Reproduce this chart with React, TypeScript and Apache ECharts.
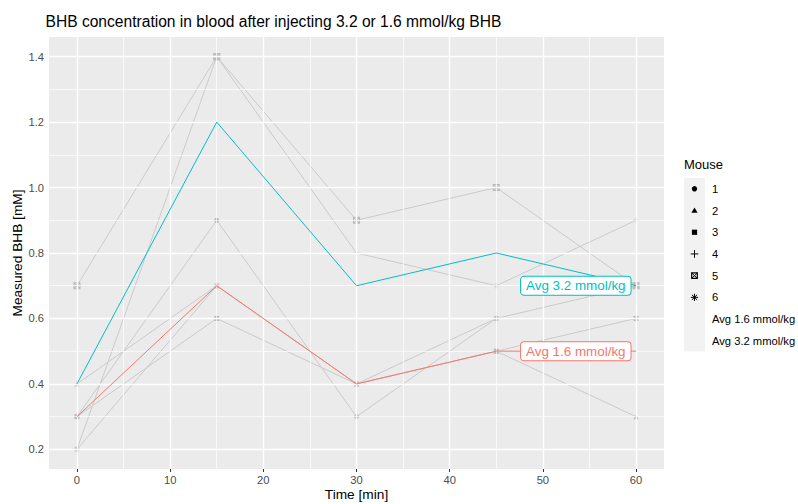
import React, { useEffect, useRef } from "react";
import * as echarts from "echarts";

// Sampling times (min)
const times = [0, 15, 30, 45, 60];

// Measured BHB per mouse (mM)
const mouse1 = [0.3, 0.9, 0.3, 0.6, 0.7];
const mouse2 = [0.4, 0.7, 0.4, 0.5, 0.3];
const mouse3 = [0.3, 0.6, 0.4, 0.5, 0.6];
const mouse4 = [0.2, 1.4, 0.8, 0.7, 0.9];
const mouse5 = [0.7, 1.4, 0.9, 1.0, 0.7];
const mouse6 = [0.2, 0.7, 0.4, 0.6, 0.6];

// Group averages (mM)
const avgHigh = [0.4, 1.2, 0.7, 0.8, 0.7];
const avgLow = [0.3, 0.7, 0.4, 0.5, 0.5];

const mouseNames = ["1", "2", "3", "4", "5", "6"];
const avgNames = ["Avg 1.6 mmol/kg", "Avg 3.2 mmol/kg"];

const xTicks = [0, 10, 20, 30, 40, 50, 60];
const xMinor = [5, 15, 25, 35, 45, 55];
const yTicks = [0.2, 0.4, 0.6, 0.8, 1.0, 1.2, 1.4];
const yMinor = [0.3, 0.5, 0.7, 0.9, 1.1, 1.3];

const FONT = "'Liberation Sans', Arial, Helvetica, sans-serif";
const CYAN = "#00BFC4";
const SALMON = "#F8766D";
const GREY_LINE = "#CACACA";
const GREY_MARK = "#BABABA";

const PLUS = "path://M0,5L10,5M5,0L5,10";
const SQUARE_CROSS = "path://M0,0L10,0L10,10L0,10ZM0,0L10,10M10,0L0,10";
const ASTERISK = "path://M0,5L10,5M5,0L5,10M1.5,1.5L8.5,8.5M8.5,1.5L1.5,8.5";

const toPairs = (vals: number[]) => times.map((t, i) => [t, vals[i]]);

function mouseSeries(name: string, vals: number[], symbol: string, stroked: boolean) {
  return {
    type: "line",
    name,
    data: toPairs(vals),
    symbol,
    symbolSize: stroked ? 6 : 5,
    showAllSymbol: true,
    silent: true,
    z: 3,
    lineStyle: { color: GREY_LINE, width: 1 },
    itemStyle: stroked
      ? { color: "rgba(0,0,0,0)", borderColor: GREY_MARK, borderWidth: 1.1 }
      : { color: GREY_MARK },
  };
}

function avgSeries(name: string, vals: number[], color: string) {
  const data: any[] = toPairs(vals);
  const last = data.length - 1;
  data[last] = {
    value: data[last],
    label: {
      show: true,
      position: "left",
      distance: 5,
      formatter: name,
      color,
      fontSize: 13.4,
      fontFamily: FONT,
      backgroundColor: "#FFFFFF",
      borderColor: color,
      borderWidth: 1,
      borderRadius: 3,
      padding: [3, 5, 2, 5],
    },
  };
  return {
    type: "line",
    name,
    data,
    symbol: "circle",
    symbolSize: 1,
    silent: true,
    z: 5,
    lineStyle: { color, width: 1 },
    itemStyle: { color: "rgba(0,0,0,0)" },
  };
}

// Panel grid lines drawn as mark lines underneath the data
function gridSeries() {
  const major = { color: "#FFFFFF", width: 1.4, type: "solid" };
  const minor = { color: "#FFFFFF", width: 0.7, type: "solid" };
  const data = [
    ...xMinor.map((v) => ({ xAxis: v, lineStyle: minor })),
    ...yMinor.map((v) => ({ yAxis: v, lineStyle: minor })),
    ...xTicks.map((v) => ({ xAxis: v, lineStyle: major })),
    ...yTicks.map((v) => ({ yAxis: v, lineStyle: major })),
  ];
  return {
    type: "line",
    data: [],
    silent: true,
    z: 1,
    markLine: {
      silent: true,
      symbol: ["none", "none"],
      label: { show: false },
      animation: false,
      data,
    },
  };
}

function legendGraphics() {
  const x0 = 684;
  const keyW = 21;
  const keyTop = 178;
  const keyH = 21.7;
  const cx = x0 + 10.5;
  const els: any[] = [];
  els.push({
    type: "text",
    left: x0,
    top: 158,
    style: { text: "Mouse", fontSize: 13, fontFamily: FONT, fill: "#000" },
  });
  els.push({
    type: "rect",
    shape: { x: x0, y: keyTop, width: keyW, height: keyH * 8 },
    style: { fill: "#F2F2F2" },
  });
  const labels = [...mouseNames, ...avgNames];
  labels.forEach((lab, i) => {
    const cy = keyTop + keyH * (i + 0.5);
    els.push({
      type: "text",
      x: 712,
      y: cy,
      style: {
        text: lab,
        fontSize: 11.2,
        fontFamily: FONT,
        fill: "#000",
        textVerticalAlign: "middle",
      },
    });
    const ink = { stroke: "#000", lineWidth: 1 };
    if (i === 0) {
      els.push({ type: "circle", shape: { cx, cy, r: 2.7 }, style: { fill: "#000" } });
    } else if (i === 1) {
      els.push({
        type: "polygon",
        shape: { points: [[cx, cy - 3], [cx + 3.1, cy + 2.3], [cx - 3.1, cy + 2.3]] },
        style: { fill: "#000" },
      });
    } else if (i === 2) {
      els.push({ type: "rect", shape: { x: cx - 2.6, y: cy - 2.6, width: 5.2, height: 5.2 }, style: { fill: "#000" } });
    } else if (i === 3) {
      els.push({ type: "line", shape: { x1: cx - 3.8, y1: cy, x2: cx + 3.8, y2: cy }, style: ink });
      els.push({ type: "line", shape: { x1: cx, y1: cy - 3.8, x2: cx, y2: cy + 3.8 }, style: ink });
    } else if (i === 4) {
      els.push({ type: "rect", shape: { x: cx - 2.8, y: cy - 2.8, width: 5.6, height: 5.6 }, style: { fill: "none", stroke: "#000", lineWidth: 1.2 } });
      els.push({ type: "line", shape: { x1: cx - 2.8, y1: cy - 2.8, x2: cx + 2.8, y2: cy + 2.8 }, style: ink });
      els.push({ type: "line", shape: { x1: cx + 2.8, y1: cy - 2.8, x2: cx - 2.8, y2: cy + 2.8 }, style: ink });
    } else if (i === 5) {
      els.push({ type: "line", shape: { x1: cx - 3.6, y1: cy, x2: cx + 3.6, y2: cy }, style: ink });
      els.push({ type: "line", shape: { x1: cx, y1: cy - 3.6, x2: cx, y2: cy + 3.6 }, style: ink });
      els.push({ type: "line", shape: { x1: cx - 2.6, y1: cy - 2.6, x2: cx + 2.6, y2: cy + 2.6 }, style: ink });
      els.push({ type: "line", shape: { x1: cx + 2.6, y1: cy - 2.6, x2: cx - 2.6, y2: cy + 2.6 }, style: ink });
    }
  });
  return els;
}

export default function App() {
  const ref = useRef<HTMLDivElement>(null);

  useEffect(() => {
    if (!ref.current) return;
    const chart = echarts.init(ref.current, undefined, { renderer: "svg" });
    chart.setOption({
      animation: false,
      backgroundColor: "#FFFFFF",
      textStyle: { fontFamily: FONT },
      grid: {
        left: 49,
        right: 134,
        top: 37,
        bottom: 35,
        show: true,
        backgroundColor: "#EBEBEB",
        borderWidth: 0,
      },
      xAxis: {
        type: "value",
        min: -3,
        max: 63,
        splitLine: { show: false },
        axisLine: { show: false },
        axisTick: { show: true, customValues: xTicks, length: 3, lineStyle: { color: "#333333", width: 1 } },
        axisLabel: { customValues: xTicks, color: "#4D4D4D", fontSize: 11.2, margin: 5 },
      },
      yAxis: {
        type: "value",
        min: 0.14,
        max: 1.46,
        splitLine: { show: false },
        axisLine: { show: false },
        axisTick: { show: true, customValues: yTicks, length: 3, lineStyle: { color: "#333333", width: 1 } },
        axisLabel: {
          customValues: yTicks,
          color: "#4D4D4D",
          fontSize: 11.2,
          margin: 5,
          formatter: (v: number) => v.toFixed(1),
        },
      },
      series: [
        gridSeries(),
        mouseSeries(mouseNames[0], mouse1, "circle", false),
        mouseSeries(mouseNames[1], mouse2, "triangle", false),
        mouseSeries(mouseNames[2], mouse3, "rect", false),
        mouseSeries(mouseNames[3], mouse4, PLUS, true),
        mouseSeries(mouseNames[4], mouse5, SQUARE_CROSS, true),
        mouseSeries(mouseNames[5], mouse6, ASTERISK, true),
        avgSeries(avgNames[0], avgLow, SALMON),
        avgSeries(avgNames[1], avgHigh, CYAN),
      ],
      graphic: [
        {
          type: "text",
          x: 45.5,
          y: 21.3,
          style: {
            text: "BHB concentration in blood after injecting 3.2 or 1.6 mmol/kg BHB",
            fontSize: 15.6,
            fontFamily: FONT,
            fill: "#000",
            textVerticalAlign: "middle",
          },
        },
        {
          type: "text",
          x: 356.5,
          y: 494.5,
          style: {
            text: "Time [min]",
            fontSize: 13.7,
            fontFamily: FONT,
            fill: "#000",
            textAlign: "center",
            textVerticalAlign: "middle",
          },
        },
        {
          type: "text",
          x: 17,
          y: 253,
          rotation: Math.PI / 2,
          style: {
            text: "Measured BHB [mM]",
            fontSize: 13.7,
            fontFamily: FONT,
            fill: "#000",
            textAlign: "center",
            textVerticalAlign: "middle",
          },
        },
        ...legendGraphics(),
      ],
    });
    return () => chart.dispose();
  }, []);

  return (
    <div
      ref={ref}
      style={{ position: "absolute", left: 0, top: 0, width: 798, height: 504 }}
    />
  );
}
